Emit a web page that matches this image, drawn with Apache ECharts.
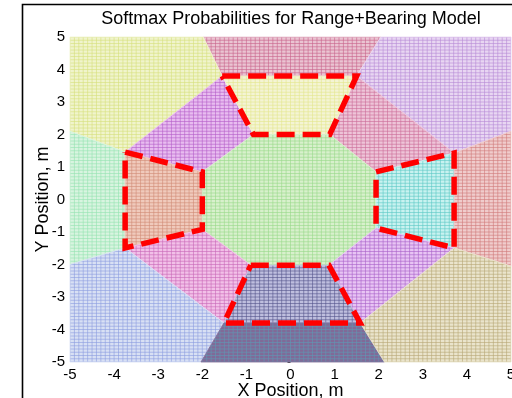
<!DOCTYPE html>
<html>
<head>
<meta charset="utf-8">
<script src="https://cdn.jsdelivr.net/npm/echarts@6/dist/echarts.min.js"></script>
<style>
  html, body { margin: 0; padding: 0; background: #fff; }
  #chart { width: 512px; height: 398px; }
</style>
</head>
<body>
<div id="chart"></div>
<script>
// Axis range and tick labels (metres)
const axisMin = -5;
const axisMax = 5;
const xTickLabels = ['-5', '-4', '-3', '-2', '-1', '0', '1', '2', '3', '4', '5'];
const yTickLabels = ['-5', '-4', '-3', '-2', '-1', '0', '1', '2', '3', '4', '5'];
const meshSteps = 100; // mesh cells per axis

// Class regions of the softmax model (argmax areas), vertices in metres
const topOuter        = [[-1.55, 3.8], [1.5, 3.8], [2.05, 5], [-1.98, 5]];
const topLeftOuter    = [[-5, 5], [-1.98, 5], [-1.55, 3.8], [-3.75, 1.46], [-5, 2.1]];
const topRightOuter   = [[2.05, 5], [5, 5], [5, 2.1], [3.71, 1.43], [1.5, 3.8]];
const topLeftWedge    = [[-1.55, 3.8], [-0.84, 2.0], [-2.0, 0.85], [-3.75, 1.46]];
const topRightWedge   = [[1.5, 3.8], [3.71, 1.43], [1.94, 0.85], [0.89, 2.0]];
const topBand         = [[-1.55, 3.8], [1.5, 3.8], [0.89, 2.0], [-0.84, 2.0]];
const leftOuter       = [[-5, 2.1], [-3.75, 1.46], [-3.75, -1.49], [-5, -2.0]];
const leftBand        = [[-3.75, 1.46], [-2.0, 0.85], [-2.0, -0.92], [-3.75, -1.49]];
const centerRegion    = [[-0.84, 2.0], [0.89, 2.0], [1.94, 0.85], [1.94, -0.88],
                         [0.87, -2.02], [-0.9, -2.02], [-2.0, -0.92], [-2.0, 0.85]];
const rightBand       = [[1.94, 0.85], [3.71, 1.43], [3.71, -1.49], [1.94, -0.88]];
const rightOuter      = [[3.71, 1.43], [5, 2.1], [5, -2.05], [3.71, -1.49]];
const bottomLeftWedge = [[-2.0, -0.92], [-0.9, -2.02], [-1.51, -3.8], [-3.75, -1.49]];
const bottomRightWedge= [[1.94, -0.88], [3.71, -1.49], [1.58, -3.8], [0.87, -2.02]];
const bottomBand      = [[-0.9, -2.02], [0.87, -2.02], [1.58, -3.8], [-1.51, -3.8]];
const bottomLeftOuter = [[-5, -2.0], [-3.75, -1.49], [-1.51, -3.8], [-2.03, -5], [-5, -5]];
const bottomOuter     = [[-1.51, -3.8], [1.58, -3.8], [2.13, -5], [-2.03, -5]];
const bottomRightOuter= [[1.58, -3.8], [3.71, -1.49], [5, -2.05], [5, -5], [2.13, -5]];

const regions = [
  topOuter, topLeftOuter, topRightOuter, topLeftWedge, topRightWedge, topBand,
  leftOuter, leftBand, centerRegion, rightBand, rightOuter,
  bottomLeftWedge, bottomRightWedge, bottomBand, bottomLeftOuter, bottomOuter, bottomRightOuter
];

// Fill and mesh-line colours, one pair per region (same order)
const regionStyles = [
  { bg: '#eac4d2', line: '#c8628a' },
  { bg: '#f0f4cc', line: '#d6e07c' },
  { bg: '#e8d6f2', line: '#b88ad6' },
  { bg: '#e8bcf0', line: '#b45ec8' },
  { bg: '#eec4d8', line: '#cc6a98' },
  { bg: '#f4f4d4', line: '#e2e68c' },
  { bg: '#d8f4e0', line: '#94e2b0' },
  { bg: '#f0cabc', line: '#d08a74' },
  { bg: '#d8f0cc', line: '#98d888' },
  { bg: '#c8f2f0', line: '#5cc8c4' },
  { bg: '#f0cccc', line: '#d07a7a' },
  { bg: '#f2c0e8', line: '#c868b8' },
  { bg: '#e8c4f4', line: '#a860c8' },
  { bg: '#bebede', line: '#54548a' },
  { bg: '#d8e0f4', line: '#8c9ce0' },
  { bg: '#806a98', line: '#5e9ab4' },
  { bg: '#eae4cc', line: '#b8a674' }
];

// Range+bearing boxes outlined with dashes
const outlines = [topBand, leftBand, rightBand, bottomBand];

const chart = echarts.init(document.getElementById('chart'), null, { renderer: 'canvas' });

// One canvas per region holding its fill colour and the mesh lines,
// laid out with the chart's own axis scales.
const patternCache = {};
function meshPattern(api, idx) {
  if (patternCache[idx]) return patternCache[idx];
  const w = chart.getWidth();
  const h = chart.getHeight();
  const cv = document.createElement('canvas');
  cv.width = w; cv.height = h;
  const ctx = cv.getContext('2d');
  const st = regionStyles[idx];
  ctx.fillStyle = st.bg;
  ctx.fillRect(0, 0, w, h);
  ctx.strokeStyle = st.line;
  ctx.globalAlpha = 0.6;
  ctx.lineWidth = 1;
  ctx.beginPath();
  for (let i = 0; i <= meshSteps; i++) {
    const v = axisMin + i * (axisMax - axisMin) / meshSteps;
    const px = api.coord([v, 0])[0];
    const py = api.coord([0, v])[1];
    ctx.moveTo(px, 0); ctx.lineTo(px, h);
    ctx.moveTo(0, py); ctx.lineTo(w, py);
  }
  ctx.stroke();
  patternCache[idx] = { image: cv, repeat: 'no-repeat' };
  return patternCache[idx];
}

function renderRegion(params, api) {
  const idx = api.value(0);
  const pts = regions[idx].map(p => api.coord(p));
  return {
    type: 'polygon',
    shape: { points: pts },
    style: { fill: meshPattern(api, idx), stroke: regionStyles[idx].bg, lineWidth: 0.8 }
  };
}

const outlineSeries = outlines.map(poly => ({
  type: 'line',
  data: poly.concat([poly[0]]),
  symbol: 'none',
  silent: true,
  z: 5,
  lineStyle: { color: '#ff0000', width: 5.5, type: [18, 8], cap: 'butt', join: 'miter' }
}));

const fontFamily = 'Liberation Sans, Arial, sans-serif';

chart.setOption({
  animation: false,
  backgroundColor: '#ffffff',
  grid: { left: 70, right: 1, top: 37, bottom: 36, containLabel: false, outerBoundsMode: 'none' },
  xAxis: {
    type: 'value', min: axisMin, max: axisMax, interval: 1,
    name: 'X Position, m', nameLocation: 'middle', nameGap: 20, nameMoveOverlap: false,
    nameTextStyle: { fontFamily, fontSize: 18, color: '#000' },
    axisLine: { show: false },
    axisTick: { show: false },
    splitLine: { show: false },
    axisLabel: {
      fontFamily, fontSize: 15, color: '#000', margin: 5,
      formatter: (v) => xTickLabels[Math.round(v - axisMin)]
    }
  },
  yAxis: {
    type: 'value', min: axisMin, max: axisMax, interval: 1,
    name: 'Y Position, m', nameLocation: 'middle', nameGap: 18, nameMoveOverlap: false,
    nameTextStyle: { fontFamily, fontSize: 18, color: '#000' },
    axisLine: { show: false },
    axisTick: { show: true, length: 3, lineStyle: { color: '#444' } },
    splitLine: { show: false },
    axisLabel: {
      fontFamily, fontSize: 15, color: '#000', margin: 5,
      formatter: (v) => yTickLabels[Math.round(v - axisMin)]
    }
  },
  graphic: [
    {
      type: 'rect', silent: true, z: 100,
      shape: { x: 22.5, y: 4.5, width: 700, height: 600 },
      style: { fill: 'none', stroke: '#000', lineWidth: 1.6 }
    },
    {
      type: 'text', silent: true, z: 100,
      x: 291, y: 19,
      style: {
        text: 'Softmax Probabilities for Range+Bearing Model',
        font: '18px ' + fontFamily, fill: '#000',
        textAlign: 'center', textVerticalAlign: 'middle'
      }
    }
  ],
  series: [
    {
      type: 'custom',
      coordinateSystem: 'cartesian2d',
      renderItem: renderRegion,
      silent: true,
      z: 1,
      encode: { x: 0, y: 0 },
      data: regions.map((_, i) => [i])
    }
  ].concat(outlineSeries)
});
</script>
</body>
</html>
